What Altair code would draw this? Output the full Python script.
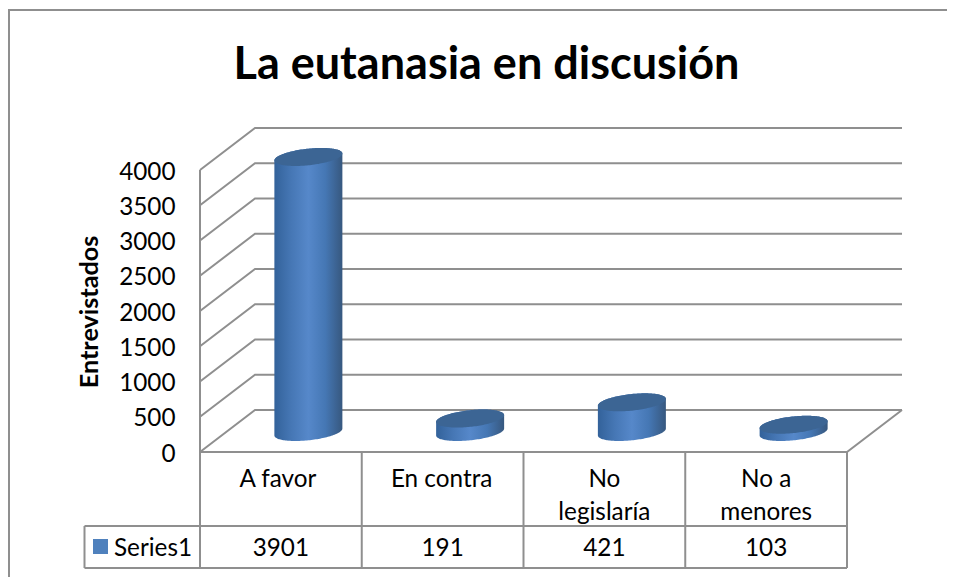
import math
import altair as alt
import pandas as pd

categories = ["A favor", "En contra", "No\nlegislaría", "No a\nmenores"]
values = [3901, 191, 421, 103]
ticks = [0, 500, 1000, 1500, 2000, 2500, 3000, 3500, 4000]
series_name = "Series1"
title_text = "La eutanasia en discusión"
y_title = "Entrevistados"

# layout of the oblique projection, in page pixels
W, H = 939, 569
LEFT, ZERO, SLOT, PXV = 200.0, 452.0, 161.75, 0.0705
DEPTH_X, DEPTH_Y = 55.0, 42.0
R_X, R_Y, SKEW = 34.0, 9.0, 13.0
GRAY = "#8f8f8f"
FONT = "Lato"
TEXT_SIZE = 24.3
CELL_SHIFT = [-3, -1, 0, 0]


def X(px):
    return (px - LEFT) / SLOT


def Y(py):
    return (ZERO - py) / PXV


xs = alt.Scale(domain=[X(8), X(8 + W)], range=[0, W], nice=False, zero=False)
ys = alt.Scale(domain=[Y(8 + H), Y(8)], range=[H, 0], nice=False, zero=False)
xe = alt.X("x:Q", scale=xs, axis=None)
ye = alt.Y("y:Q", scale=ys, axis=None)

# gridlines and walls
rows = []
for t in ticks:
    py = ZERO - t * PXV
    for i, (a, b) in enumerate([(LEFT, py), (LEFT + DEPTH_X, py - DEPTH_Y), (LEFT + 4 * SLOT + DEPTH_X, py - DEPTH_Y)]):
        rows.append(dict(x=X(a), y=Y(b), k=f"g{t}", o=i))
segs = {
    "floor": [(LEFT + 4 * SLOT + DEPTH_X, ZERO - DEPTH_Y), (LEFT + 4 * SLOT, ZERO), (LEFT, ZERO)],
    "wall": [(LEFT, ZERO), (LEFT, ZERO - 4000 * PXV)],
    "row1": [(84.5, 526), (LEFT + 4 * SLOT, 526)],
    "row2": [(84.5, 568), (LEFT + 4 * SLOT, 568)],
    "left": [(84.5, 526), (84.5, 568)],
    "frame": [(9, 577), (9, 10), (947, 10)],
}
for c in range(5):
    segs[f"col{c}"] = [(LEFT + c * SLOT, ZERO), (LEFT + c * SLOT, 568)]
for k, pts in segs.items():
    for i, (a, b) in enumerate(pts):
        rows.append(dict(x=X(a), y=Y(b), k=k, o=i))
lines = alt.Chart(pd.DataFrame(rows)).mark_line(color=GRAY, strokeWidth=2, clip=True).encode(
    xe, ye, detail="k:N", order="o:Q"
)

# cylinders
t0 = math.asin(SKEW / R_X)
body, top = [], []
for i, v in enumerate(values):
    cx = LEFT + (i + 0.5) * SLOT + DEPTH_X / 2
    base = ZERO - 20
    head = base - v * PXV
    for s in range(0, 73):
        th = math.pi * s / 72
        px = cx + R_X * math.cos(th)
        up = R_Y * math.sin(t0 + th)
        lo = R_Y * math.sin(t0 - th)
        body.append(dict(x=X(px), y=Y(head - up), y2=Y(base - lo), k=i))
        top.append(dict(x=X(px), y=Y(head - up), y2=Y(head - lo), k=i))
grad = alt.LinearGradient(
    gradient="linear", x1=0, x2=1, y1=0, y2=0,
    stops=[
        alt.GradientStop(color="#33629a", offset=0),
        alt.GradientStop(color="#4677b5", offset=0.25),
        alt.GradientStop(color="#5688ca", offset=0.5),
        alt.GradientStop(color="#4577b4", offset=0.75),
        alt.GradientStop(color="#37587f", offset=1),
    ],
)
bodies = alt.Chart(pd.DataFrame(body)).mark_area(color=grad).encode(xe, ye, y2="y2:Q", detail="k:N")
tops = alt.Chart(pd.DataFrame(top)).mark_area(color="#3c6594").encode(xe, ye, y2="y2:Q", detail="k:N")

# table text
txt = []
for i, c in enumerate(categories):
    txt.append(dict(x=X(LEFT + (i + 0.5) * SLOT + CELL_SHIFT[i]), y=Y(487), t=c))
for i, v in enumerate(values):
    txt.append(dict(x=X(LEFT + (i + 0.5) * SLOT), y=Y(556), t=str(v)))
table_text = alt.Chart(pd.DataFrame(txt)).mark_text(
    font=FONT, fontSize=TEXT_SIZE, lineBreak="\n", lineHeight=33, align="center", baseline="alphabetic", color="#000000"
).encode(xe, ye, text="t:N")
legend_text = alt.Chart(pd.DataFrame([dict(x=X(114), y=Y(556), t=series_name)])).mark_text(
    font=FONT, fontSize=TEXT_SIZE, align="left", baseline="alphabetic", color="#000000"
).encode(xe, ye, text="t:N")
swatch = alt.Chart(pd.DataFrame([dict(x=X(93), x2=X(108), y=Y(539), y2=Y(554))])).mark_rect(color="#4F81BD").encode(
    xe, alt.X2("x2:Q"), ye, alt.Y2("y2:Q")
)
ytitle = alt.Chart(pd.DataFrame([dict(x=X(98), y=Y(312), t=y_title)])).mark_text(
    font=FONT, fontSize=25.2, fontWeight="bold", angle=270, align="center", baseline="alphabetic", color="#000000"
).encode(xe, ye, text="t:N")

# value axis: labels only
axis_layer = alt.Chart(pd.DataFrame({"y": ticks})).mark_point(opacity=0).encode(
    x=alt.value(0),
    y=alt.Y("y:Q", scale=ys, title=None, axis=alt.Axis(
        values=ticks, domain=False, ticks=False, grid=False, labelFont=FONT, labelFontSize=TEXT_SIZE,
        labelColor="#000000", labelPadding=0, offset=-(175 - 8), format="d", labelOverlap=False, labelOffset=2,
    )),
)

chart = alt.layer(lines, bodies, tops, swatch, table_text, legend_text, ytitle, axis_layer).resolve_axis(
    y="independent"
).properties(
    width=W, height=H, padding=0,
    autosize=alt.AutoSizeParams(type="none"),
    title=alt.TitleParams(title_text, font=FONT, fontSize=45, fontWeight="bold", color="#000000",
                          anchor="middle", frame="group", dy=84, dx=9),
).configure_view(stroke=None)
chart.save("out.html", embed_options={"renderer": "svg", "actions": False})
